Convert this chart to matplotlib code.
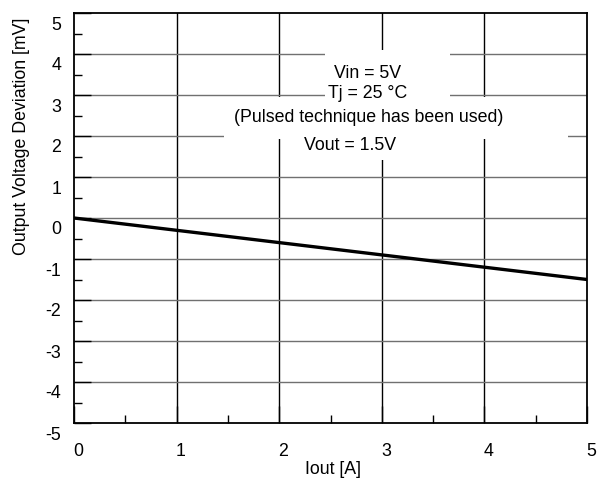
import matplotlib.pyplot as plt
import matplotlib.transforms as mtransforms
from matplotlib.patches import Rectangle
from matplotlib.ticker import MultipleLocator

plt.rcParams['font.family'] = ['Liberation Sans', 'DejaVu Sans']
plt.rcParams['axes.unicode_minus'] = False

# data
iout = [0, 1, 2, 3, 4, 5]
deviation = [0, -0.3, -0.6, -0.9, -1.2, -1.5]
x_ticks = [0, 1, 2, 3, 4, 5]
y_ticks = [-5, -4, -3, -2, -1, 0, 1, 2, 3, 4, 5]

fs = 12.8

fig = plt.figure(figsize=(6.03, 4.8), dpi=100)
ax = fig.add_axes([74/603, 1-423/480, (587-74)/603, (423-13)/480])

ax.set_xlim(0, 5)
ax.set_ylim(-5, 5)
ax.set_xticks(x_ticks)
ax.set_yticks(y_ticks)
ax.xaxis.set_minor_locator(MultipleLocator(0.5))
ax.yaxis.set_minor_locator(MultipleLocator(0.5))

# grid: vertical black, horizontal grey
for xv in x_ticks[1:-1]:
    ax.axvline(xv, color='black', lw=1.0, zorder=1)
for yv in y_ticks[1:-1]:
    ax.axhline(yv, color='#707070', lw=1.0, zorder=1)

ax.tick_params(which='major', direction='in', length=12, width=1.0,
               labelsize=fs, pad=9, top=False, right=False)
ax.tick_params(which='minor', direction='in', length=6, width=1.0,
               top=False, right=False)

# the tick labels in the reference sit a bit off their grid lines
off_y = mtransforms.ScaledTranslation(0, -10/100, fig.dpi_scale_trans)
for lab in ax.get_yticklabels():
    lab.set_transform(lab.get_transform() + off_y)
off_x = mtransforms.ScaledTranslation(4/100, -7/100, fig.dpi_scale_trans)
for lab in ax.get_xticklabels():
    lab.set_transform(lab.get_transform() + off_x)

for sp in ax.spines.values():
    sp.set_linewidth(1.3)
    sp.set_zorder(5)

ax.plot(iout, deviation, color='black', lw=2.4, zorder=3)

# white patches behind the annotation
for (x0, y0, w, h) in [(2.45, 2.88, 1.21, 1.22),
                       (1.46, 1.93, 3.35, 1.02),
                       (2.2, 1.41, 0.98, 0.6)]:
    ax.add_patch(Rectangle((x0, y0), w, h, facecolor='white',
                           edgecolor='none', zorder=2))

ax.text(2.86, 3.52, 'Vin = 5V', ha='center', va='center', fontsize=fs, zorder=4)
ax.text(2.86, 3.03, 'Tj = 25 °C', ha='center', va='center', fontsize=fs, zorder=4)
ax.text(2.87, 2.46, '(Pulsed technique has been used)', ha='center',
        va='center', fontsize=fs, zorder=4)
ax.text(2.69, 1.76, 'Vout = 1.5V', ha='center', va='center',
        fontsize=fs, zorder=4)

fig.text(22/603, 1-136/480, 'Output Voltage Deviation [mV]', rotation=90,
         ha='center', va='center', fontsize=fs)
fig.text(333/603, 1-469/480, 'Iout [A]', ha='center', va='center',
         fontsize=fs)

fig.savefig('out.png', dpi=100)
